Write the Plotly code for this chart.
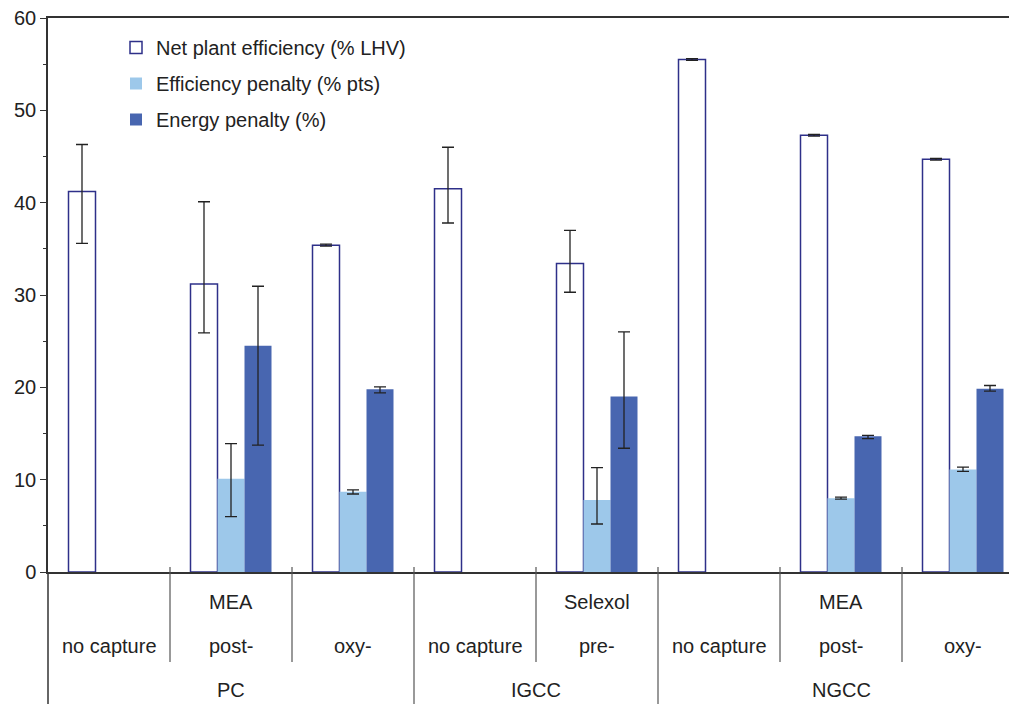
import plotly.graph_objects as go

# ---- data ----
plants = ["PC", "IGCC", "NGCC"]
plant_spans = [(0, 2), (3, 4), (5, 7)]
capture = ["no capture", "post-", "oxy-", "no capture", "pre-", "no capture", "post-", "oxy-"]
solvent = ["", "MEA", "", "", "Selexol", "", "MEA", ""]

net_eff = [41.2, 31.2, 35.4, 41.5, 33.4, 55.5, 47.3, 44.7]
net_eff_hi = [46.3, 40.1, 35.5, 46.0, 37.0, 55.6, 47.4, 44.8]
net_eff_lo = [35.6, 25.9, 35.3, 37.8, 30.3, 55.4, 47.2, 44.6]

eff_pen = [None, 10.1, 8.7, None, 7.8, None, 8.0, 11.1]
eff_pen_hi = [None, 13.9, 8.9, None, 11.3, None, 8.1, 11.35]
eff_pen_lo = [None, 6.0, 8.45, None, 5.2, None, 7.9, 10.9]

energy_pen = [None, 24.5, 19.8, None, 19.0, None, 14.7, 19.85]
energy_pen_hi = [None, 30.95, 20.05, None, 26.0, None, 14.8, 20.2]
energy_pen_lo = [None, 13.75, 19.4, None, 13.4, None, 14.45, 19.6]

series_names = ["Net plant efficiency (% LHV)", "Efficiency penalty (% pts)", "Energy penalty (%)"]

# ---- styling ----
NAVY = "#2E3089"
LIGHT = "#9DC8EA"
DARK = "#4866B0"
TXT = "#222222"
AXC = "#333333"
FONT = "Liberation Sans, Arial, sans-serif"
FS = 20

x = list(range(len(capture)))


def errs(v, hi, lo):
    plus = [None if a is None else round(h - a, 3) for a, h in zip(v, hi)]
    minus = [None if a is None else round(a - l, 3) for a, l in zip(v, lo)]
    return plus, minus


fig = go.Figure()
specs = [
    (net_eff, net_eff_hi, net_eff_lo, "white", NAVY, 1.5),
    (eff_pen, eff_pen_hi, eff_pen_lo, LIGHT, LIGHT, 0),
    (energy_pen, energy_pen_hi, energy_pen_lo, DARK, DARK, 0),
]
for i, (v, hi, lo, fc, lc, lw) in enumerate(specs):
    p, m = errs(v, hi, lo)
    fig.add_trace(go.Bar(
        x=x, y=v, name=series_names[i], legendgroup=f"g{i}",
        marker=dict(color=fc, line=dict(color=lc, width=lw)),
        error_y=dict(type="data", symmetric=False, array=p, arrayminus=m,
                     color=TXT, thickness=1.3, width=6),
    ))

# page has an 8px body margin; figure is offset by (8, 8)
W, H = 1009, 696
ML, MT, MB = 40, 10, 132
plot_h = H - MT - MB
plot_w = W - ML


def py(px):
    # px: page pixel row; zero line sits at page row 572
    return (572 - px) / plot_h


shapes = []
shapes.append(dict(type="line", xref="paper", yref="paper", x0=0, x1=0,
                   y0=py(704), y1=0, line=dict(color=AXC, width=1.5)))
major_bounds = [e + 0.5 for (_, e) in plant_spans[:-1]]
for k in range(len(capture) - 1):
    b = k + 0.5
    ybot = py(704) if b in major_bounds else py(662)
    shapes.append(dict(type="line", xref="x", yref="paper", x0=b, x1=b,
                       y0=ybot, y1=py(567), line=dict(color="#555555", width=1.2)))

lab_font = dict(size=FS, color=TXT, family=FONT)
annotations = []
for i, c in enumerate(capture):
    annotations.append(dict(x=i, y=py(646), xref="x", yref="paper", text=c,
                            xanchor="center", yanchor="middle",
                            showarrow=False, font=lab_font))
    if solvent[i]:
        annotations.append(dict(x=i, y=py(602), xref="x", yref="paper", text=solvent[i],
                                xanchor="center", yanchor="middle",
                                showarrow=False, font=lab_font))
for name, (s, e) in zip(plants, plant_spans):
    annotations.append(dict(x=(s + e) / 2, y=py(690), xref="x", yref="paper", text=name,
                            xanchor="center", yanchor="middle",
                            showarrow=False, font=lab_font))

fig.update_layout(
    width=W, height=H,
    margin=dict(l=ML, r=0, t=MT, b=MB, autoexpand=False),
    paper_bgcolor="white", plot_bgcolor="white",
    barmode="group", bargap=0.336, bargroupgap=0,
    font=dict(family=FONT, size=FS, color=TXT),
    showlegend=True,
    legend=dict(x=(116 - 48) / plot_w, y=py(28), xanchor="left", yanchor="top",
                bgcolor="rgba(0,0,0,0)", font=lab_font,
                traceorder="grouped", tracegroupgap=7, itemwidth=30),
    xaxis=dict(range=[-0.5, -0.5 + plot_w / 122], showticklabels=False, ticks="",
               showgrid=False, zeroline=False, showline=True, linecolor=AXC,
               linewidth=1.5, mirror=True, automargin=False),
    yaxis=dict(range=[0, 60], dtick=10, ticks="outside", ticklen=6, tickcolor=AXC,
               tickwidth=1.2, showgrid=False, zeroline=False, showline=True,
               linecolor=AXC, linewidth=1.5, automargin=False,
               ticklabeloverflow="allow",
               minor=dict(dtick=5, ticks="outside", ticklen=3, tickcolor=AXC),
               tickfont=lab_font),
    shapes=shapes, annotations=annotations,
)

fig.write_html("out.html")
